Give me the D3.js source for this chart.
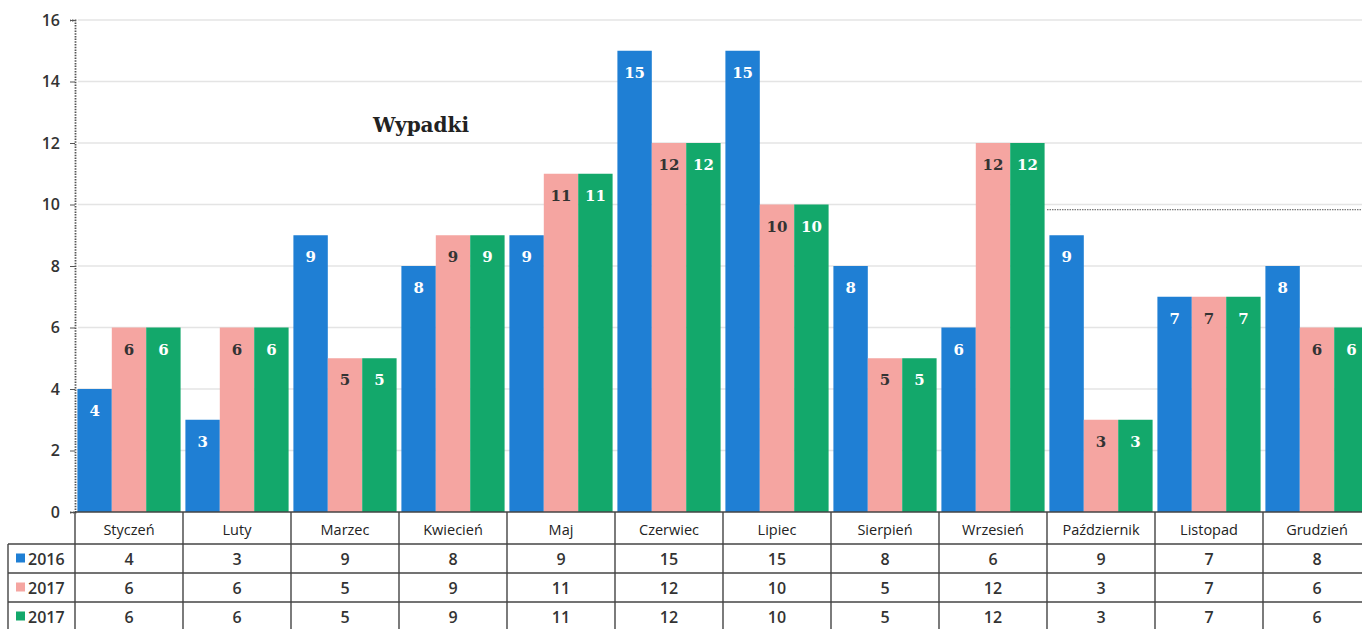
<!DOCTYPE html>
<html><head><meta charset="utf-8">
<script src="https://cdn.jsdelivr.net/npm/d3@7"></script>
<style>
html,body{margin:0;padding:0;background:#fff;}
svg{display:block;}
</style></head>
<body>
<svg id="chart" width="1362" height="629"></svg>
<script>
const months = ["Styczeń","Luty","Marzec","Kwiecień","Maj","Czerwiec","Lipiec","Sierpień","Wrzesień","Październik","Listopad","Grudzień"];
const seriesNames = ["2016","2017","2017"];
const values2016 = [4,3,9,8,9,15,15,8,6,9,7,8];
const values2017a = [6,6,5,9,11,12,10,5,12,3,7,6];
const values2017b = [6,6,5,9,11,12,10,5,12,3,7,6];
const yTicks = [0,2,4,6,8,10,12,14,16];
const title = "Wypadki";

const colors = ["#1f7fd4","#f5a5a1","#13a86b"];
const labelColors = ["#ffffff","#333333","#ffffff"];
const seriesValues = [values2016, values2017a, values2017b];

const svg = d3.select("#chart");
const leftX = 75, topY = 20, zeroY = 512;
const bandW = 108;
const x = d3.scaleBand().domain(months).range([leftX, leftX + bandW*months.length]).paddingInner(0).paddingOuter(0);
const x1 = d3.scaleBand().domain(d3.range(3)).range([0, x.bandwidth()]).paddingInner(0).paddingOuter(0.07);
const y = d3.scaleLinear().domain([0,16]).range([zeroY, topY]);

// gridlines
svg.append("g").selectAll("line").data(yTicks.filter(d=>d>0)).join("line")
  .attr("x1", leftX + 3).attr("x2", 1362)
  .attr("y1", d=>y(d)).attr("y2", d=>y(d))
  .attr("stroke", "#e4e4e4").attr("stroke-width", 1.3);

// stray dotted line (scan artifact)
svg.append("line")
  .attr("x1", x("Październik")).attr("x2", 1362)
  .attr("y1", y(9.83)).attr("y2", y(9.83))
  .attr("stroke", "#555").attr("stroke-width", 1).attr("stroke-dasharray", "1.5,1");

// y axis
const yAxis = d3.axisLeft(y).tickValues(yTicks).tickSize(5).tickPadding(10);
const gy = svg.append("g").attr("transform", `translate(${leftX},0)`).call(yAxis);
gy.select(".domain").attr("stroke", "#555").attr("stroke-dasharray", "1.5,1.2").attr("stroke-width", 1.8);
gy.selectAll(".tick line").attr("stroke", "#555");
gy.selectAll(".tick text").attr("font-family", "'Open Sans', sans-serif").attr("font-size", 16)
  .attr("font-weight", 600).attr("fill", "#333");

// bars
const groups = svg.append("g").selectAll("g").data(months).join("g")
  .attr("transform", d => `translate(${x(d)},0)`);
groups.each(function(m, i){
  const g = d3.select(this);
  seriesValues.forEach((vals, s) => {
    const v = vals[i];
    g.append("rect")
      .attr("x", x1(s)).attr("width", x1.bandwidth())
      .attr("y", y(v)).attr("height", y(0) - y(v))
      .attr("fill", colors[s]);
    g.append("text")
      .attr("x", x1(s) + x1.bandwidth()/2)
      .attr("y", y(v) + 27)
      .attr("text-anchor", "middle")
      .attr("font-family", "'DejaVu Serif', serif")
      .attr("font-weight", "bold")
      .attr("font-size", 15)
      .attr("fill", labelColors[s])
      .text(v);
  });
});

// title
svg.append("text").attr("x", 421).attr("y", 132).attr("text-anchor", "middle")
  .attr("font-family", "'DejaVu Serif', serif").attr("font-weight", "bold")
  .attr("font-size", 20).attr("fill", "#222").text(title);

// data table
const rowTops = [zeroY, 544, 573, 602, 631];
const tableFont = "'Open Sans', sans-serif";
const tg = svg.append("g");
const lineColor = "#444";
tg.append("line").attr("x1", leftX).attr("x2", 1362).attr("y1", zeroY).attr("y2", zeroY).attr("stroke", lineColor).attr("stroke-width", 1.6);
[544, 573, 602].forEach(yy => {
  tg.append("line").attr("x1", 8).attr("x2", 1362).attr("y1", yy).attr("y2", yy).attr("stroke", lineColor).attr("stroke-width", 1.4);
});
const vx = months.map(m => x(m)).concat([x(months[months.length-1]) + x.bandwidth()]);
vx.forEach(xx => {
  tg.append("line").attr("x1", xx).attr("x2", xx).attr("y1", zeroY).attr("y2", 629).attr("stroke", lineColor).attr("stroke-width", 1.4);
});
tg.append("line").attr("x1", 8).attr("x2", 8).attr("y1", 544).attr("y2", 629).attr("stroke", lineColor).attr("stroke-width", 1.4);

tg.selectAll("text.m").data(months).join("text").attr("class","m")
  .attr("x", d => x(d) + x.bandwidth()/2).attr("y", 535)
  .attr("text-anchor", "middle").attr("font-family", tableFont).attr("font-size", 14.5)
  .attr("font-weight", 500).attr("fill", "#222").text(d => d);

seriesValues.forEach((vals, s) => {
  const cy = (rowTops[s+1] + rowTops[s+2]) / 2;
  tg.append("rect").attr("x", 16).attr("y", cy - 5).attr("width", 9).attr("height", 9).attr("fill", colors[s]);
  tg.append("text").attr("x", 28).attr("y", cy + 6).attr("font-family", tableFont)
    .attr("font-size", 16).attr("font-weight", 600).attr("fill", "#333").text(seriesNames[s]);
  tg.selectAll(null).data(vals).join("text")
    .attr("x", (d,i) => x(months[i]) + x.bandwidth()/2).attr("y", cy + 6)
    .attr("text-anchor", "middle").attr("font-family", tableFont).attr("font-size", 16)
    .attr("font-weight", 600).attr("fill", "#333").text(d => d);
});
</script>
</body></html>
